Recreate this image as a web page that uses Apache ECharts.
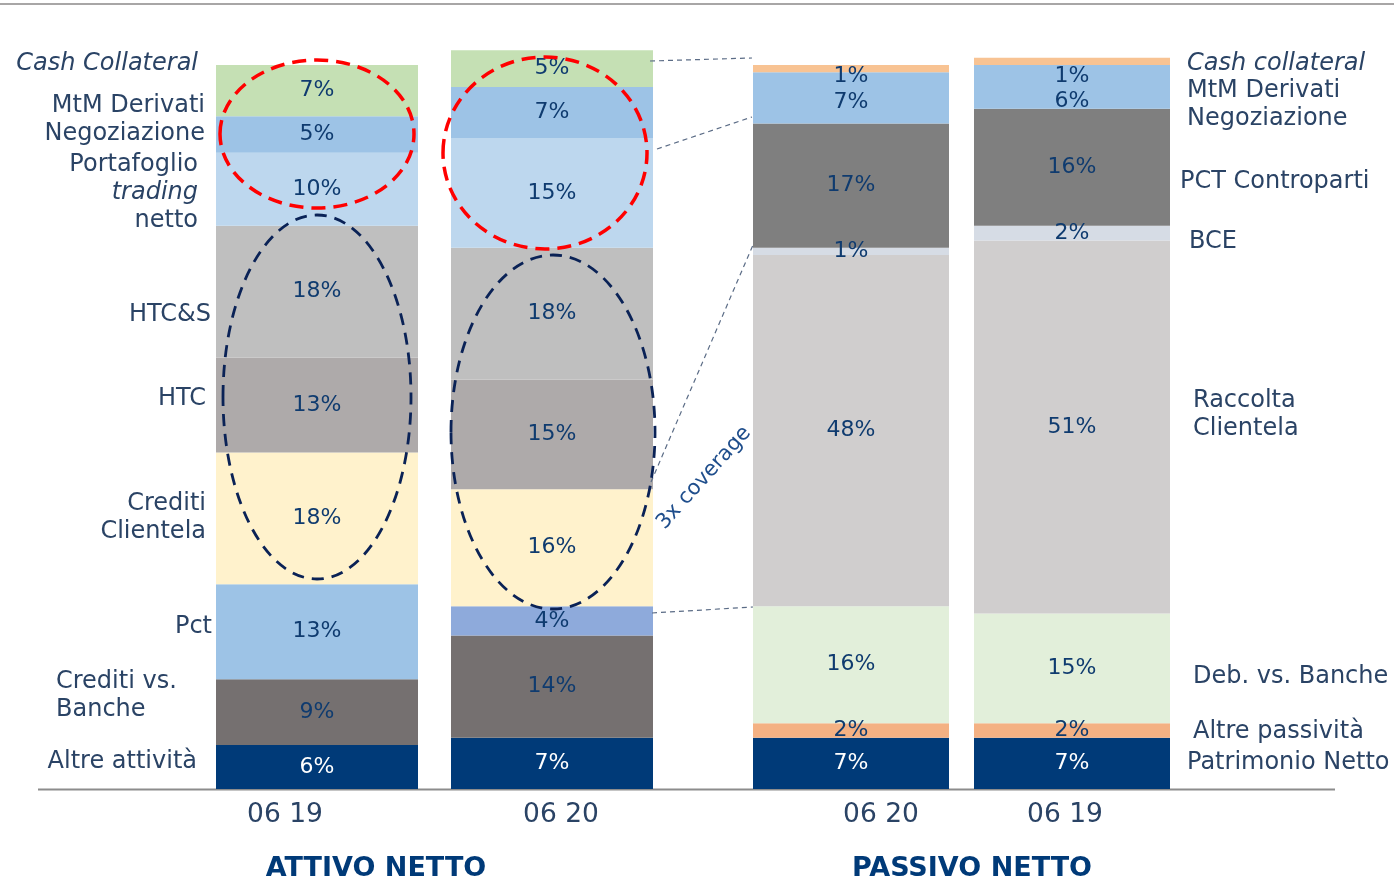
<!DOCTYPE html>
<html>
<head>
<meta charset="utf-8">
<script src="https://cdn.jsdelivr.net/npm/echarts@6/dist/echarts.min.js"></script>
<style>
  html, body { margin: 0; padding: 0; background: #fff; }
  #chart { width: 1394px; height: 882px; }
</style>
</head>
<body>
<div id="chart"></div>
<script>
// ---- data ----
const assetCats = ['06 19', '06 20'];
const liabCats = ['06 20', '06 19'];

// stacked from bottom to top
const assetNames = ['Altre attività', 'Crediti vs. Banche', 'Pct', 'Crediti Clientela', 'HTC', 'HTC&S',
  'Portafoglio trading netto', 'MtM Derivati Negoziazione', 'Cash Collateral'];
const assetValues = [
  [6, 7], [9, 14], [13, 4], [18, 16], [13, 15], [18, 18], [10, 15], [5, 7], [7, 5]
];

const liabNames = ['Patrimonio Netto', 'Altre passività', 'Deb. vs. Banche', 'Raccolta Clientela', 'BCE',
  'PCT Controparti', 'MtM Derivati Negoziazione', 'Cash collateral'];
const liabValues = [
  [7, 7], [2, 2], [16, 15], [48, 51], [1, 2], [17, 16], [7, 6], [1, 1]
];

// text lines beside each stack (same order as the names)
const assetLabelLines = [['Altre attività'], ['Crediti vs.', 'Banche'], ['Pct'], ['Crediti', 'Clientela'],
  ['HTC'], ['HTC&S'], ['Portafoglio', 'trading', 'netto'], ['MtM Derivati', 'Negoziazione'], ['Cash Collateral']];
const liabLabelLines = [['Patrimonio Netto'], ['Altre passività'], ['Deb. vs. Banche'], ['Raccolta', 'Clientela'],
  ['BCE'], ['PCT Controparti'], ['MtM Derivati', 'Negoziazione'], ['Cash collateral']];
const italicLines = ['Cash Collateral', 'Cash collateral', 'trading'];

const titles = ['ATTIVO NETTO', 'PASSIVO NETTO'];
const coverageNote = '3x coverage';

// ---- styles ----
const FONT = '"DejaVu Sans", Verdana, sans-serif';
const NAVY = '#003A78';
const LABEL_NAVY = '#0F3B6F';
const TEXT_COLOR = '#2A4365';

const assetColors = ['#003A78', '#757070', '#9DC3E6', '#FFF2CC', '#AEAAAA', '#BFBFBF', '#BDD7EE', '#9DC3E6', '#C5E0B4'];
const assetItemColors = { 2: { 1: '#8EAADB' } };   // second-period Pct shade
const liabColors = ['#003A78', '#F4B183', '#E2EFDA', '#D0CECE', '#D6DCE5', '#7F7F7F', '#9DC3E6', '#F8C393'];
const liabLabelShift = { 6: [4, 14], 7: [8, 15] };  // nudge crowded labels downward

// pixel layout of the side labels: [x, y of first line, align]
const assetLabelPos = [
  [197, 762, 'right'], [56, 682, 'left'], [212, 627, 'right'], [206, 504, 'right'], [206, 399, 'right'],
  [211, 315, 'right'], [198, 165, 'right'], [205, 106, 'right'], [198, 64, 'right']
];
const liabLabelPos = [
  [1187, 763], [1193, 732], [1193, 677], [1193, 401], [1189, 242], [1180, 182], [1187, 91], [1187, 64]
];
const LINE_H = 28;
// period labels under the stacks: centre x for each category
const assetTickX = [285, 561];
const liabTickX = [881, 1065];

function segLabel(color) {
  return {
    show: true, position: 'inside', formatter: '{c}%',
    color: color, fontFamily: FONT, fontSize: 22
  };
}

const series = [];
assetNames.forEach((name, i) => {
  series.push({
    name: name, type: 'bar', stack: 'assets', xAxisIndex: 0, yAxisIndex: 0,
    barWidth: 202,
    itemStyle: { color: assetColors[i] },
    label: segLabel(i === 0 ? '#ffffff' : LABEL_NAVY),
    data: assetValues[i].map((v, j) => {
      const c = assetItemColors[i] && assetItemColors[i][j];
      return c ? { value: v, itemStyle: { color: c } } : v;
    })
  });
});
liabNames.forEach((name, i) => {
  const shift = liabLabelShift[i];
  series.push({
    name: name, type: 'bar', stack: 'liabilities', xAxisIndex: 1, yAxisIndex: 1,
    barWidth: 196,
    itemStyle: { color: liabColors[i] },
    label: segLabel(i === 0 ? '#ffffff' : LABEL_NAVY),
    data: liabValues[i].map((v, j) => shift
      ? { value: v, label: { offset: [0, shift[j]] } }
      : v)
  });
});

// side labels
const graphics = [];
function addText(t, x, y, align, font, fill, extra) {
  graphics.push(Object.assign({
    type: 'text', x: x, y: y, z: 10,
    style: { text: t, fill: fill, textAlign: align, textVerticalAlign: 'middle', font: font }
  }, extra || {}));
}
function addLines(lines, x, y, align) {
  lines.forEach((t, k) => {
    const font = (italicLines.indexOf(t) >= 0 ? 'italic ' : '') + '24px ' + FONT;
    addText(t, x, y + k * LINE_H, align, font, TEXT_COLOR);
  });
}
assetLabelLines.forEach((lines, i) => addLines(lines, assetLabelPos[i][0], assetLabelPos[i][1], assetLabelPos[i][2]));
liabLabelLines.forEach((lines, i) => addLines(lines, liabLabelPos[i][0], liabLabelPos[i][1], 'left'));

// period labels
assetCats.forEach((c, i) => addText(c, assetTickX[i], 815, 'center', '26.5px ' + FONT, TEXT_COLOR));
liabCats.forEach((c, i) => addText(c, liabTickX[i], 815, 'center', '26.5px ' + FONT, TEXT_COLOR));

// section titles
addText(titles[0], 376, 869, 'center', 'bold 27px ' + FONT, NAVY);
addText(titles[1], 972, 869, 'center', 'bold 27px ' + FONT, NAVY);

// frame lines
graphics.push({ type: 'line', z: 1, shape: { x1: 0, y1: 4, x2: 1394, y2: 4 }, style: { stroke: '#A8A6A6', lineWidth: 2 } });
graphics.push({ type: 'line', z: 1, shape: { x1: 38, y1: 789.5, x2: 1335, y2: 789.5 }, style: { stroke: '#8C8C8C', lineWidth: 2 } });

// connectors between the second asset stack and the first liability stack
const connectorStyle = { stroke: '#5B6C86', lineWidth: 1.2, lineDash: [5, 4] };
[[650, 61, 752, 58], [657, 149, 752, 117], [651, 482, 753, 245], [652, 613, 753, 607]].forEach(s => {
  graphics.push({ type: 'line', z: 5, shape: { x1: s[0], y1: s[1], x2: s[2], y2: s[3] }, style: connectorStyle });
});
addText(coverageNote, 704, 478, 'center', '21px ' + FONT, '#1F4E8C', { rotation: 0.84 });

// highlight rings
const redRing = { fill: 'none', stroke: '#FF0000', lineWidth: 3.5, lineDash: [14, 8] };
const navyRing = { fill: 'none', stroke: '#0A2256', lineWidth: 2.8, lineDash: [12, 8] };
graphics.push({ type: 'ellipse', z: 8, shape: { cx: 317, cy: 134, rx: 97, ry: 74 }, style: redRing });
graphics.push({ type: 'ellipse', z: 8, shape: { cx: 545, cy: 153, rx: 102, ry: 96 }, style: redRing });
graphics.push({ type: 'ellipse', z: 8, shape: { cx: 317, cy: 397, rx: 94, ry: 182 }, style: navyRing });
graphics.push({ type: 'ellipse', z: 8, shape: { cx: 553, cy: 432, rx: 102, ry: 177 }, style: navyRing });

const catAxis = (cats, idx) => ({
  type: 'category', gridIndex: idx, data: cats,
  axisLine: { show: false }, axisTick: { show: false }, axisLabel: { show: false }
});
const valAxis = idx => ({ type: 'value', gridIndex: idx, min: 0, max: 102, show: false });

const chart = echarts.init(document.getElementById('chart'), null, { renderer: 'canvas' });
chart.setOption({
  animation: false,
  backgroundColor: '#ffffff',
  grid: [
    { left: 199.5, width: 470, top: 43, bottom: 93 },
    { left: 740.5, width: 442, top: 43, bottom: 93 }
  ],
  xAxis: [catAxis(assetCats, 0), catAxis(liabCats, 1)],
  yAxis: [valAxis(0), valAxis(1)],
  series: series,
  graphic: graphics
});
</script>
</body>
</html>
